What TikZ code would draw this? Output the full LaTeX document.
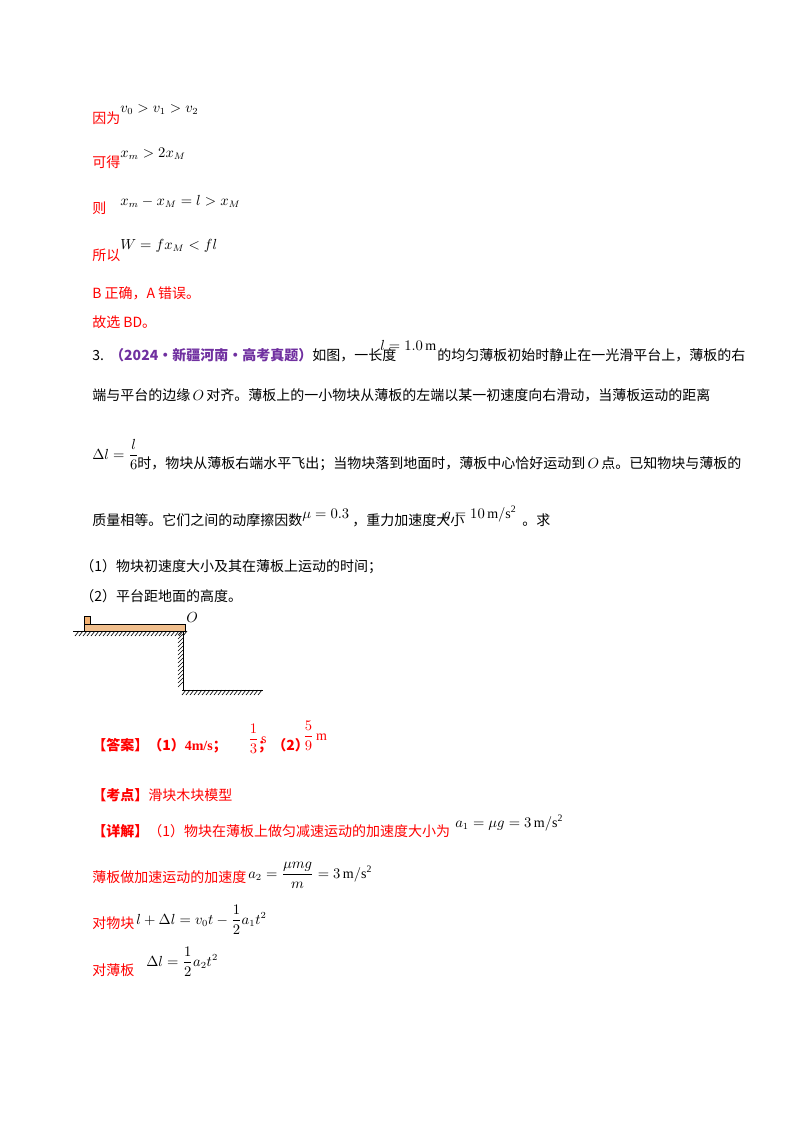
\documentclass[tikz,border=0pt]{standalone}
\usepackage{fontspec}
\setmainfont{Liberation Serif}
\newfontfamily\cjk{Noto Sans CJK SC}
\usepackage{amsmath}
\begin{document}
\begin{tikzpicture}[x=0.75pt,y=-0.75pt,
 t/.style={anchor=base west,inner sep=0pt,font=\cjk\fontsize{10.5}{12}\selectfont},
 r/.style={t,text=red},
 m/.style={anchor=base west,inner sep=0pt,font=\fontsize{10.5}{12}\selectfont},
 hatch/.style={line width=0.5pt}]
\useasboundingbox (0,0) rectangle (800,1132);
\definecolor{pur}{RGB}{112,48,160}
\definecolor{boardc}{RGB}{240,190,140}
\node[r] (a1) at (92,123) {因为};
\node[m] (a1m) at (120,112) {$v_0>v_1>v_2$};
\node[r] (a2) at (92,167) {可得};
\node[m] (a2m) at (120,157) {$x_m>2x_M$};
\node[r] (a3) at (92,213) {则};
\node[m] (a3m) at (120,205) {$x_m-x_M=l>x_M$};
\node[r] (a4) at (92,260) {所以};
\node[m] (a4m) at (120,249) {$W=fx_M<fl$};
\node[r] (a5) at (92,298) {B 正确，A 错误。};
\node[r] (a6) at (92,327) {故选 BD。};
\node[t] (q1) at (92,360) {3.\ \ {\color{pur}\bfseries（2024·新疆河南·高考真题）}如图，一长度};
\node[m] (q1m) at (380,350) {$l=1.0\,\mathrm{m}$};
\node[t] (q1b) at (437,360) {的均匀薄板初始时静止在一光滑平台上，薄板的右};
\node[t] (q2) at (92,400) {端与平台的边缘\,$O$\,对齐。薄板上的一小物块从薄板的左端以某一初速度向右滑动，当薄板运动的距离};
\node[m] (q3m) at (92,459) {$\Delta l=\dfrac{l}{6}$};
\node[t] (q3) at (137,468) {时，物块从薄板右端水平飞出；当物块落到地面时，薄板中心恰好运动到\,$O$\,点。已知物块与薄板的};
\node[t] (q4) at (92,525) {质量相等。它们之间的动摩擦因数};
\node[m] (q4m) at (302,518) {$\mu=0.3$};
\node[t] (q4b) at (352,525) {，重力加速度大小};
\node[m] (q4n) at (443,518) {$g=10\,\mathrm{m/s^2}$};
\node[t] (q4c) at (522,525) {。求};
\node[t] (q5) at (80,571) {（1）物块初速度大小及其在薄板上运动的时间；};
\node[t] (q6) at (80,601) {（2）平台距地面的高度。};
% figure
\draw[hatch] (73,631) -- (185,631);
\foreach \x in {75,79,...,183} \draw[hatch] (\x,636) -- (\x+4,631);
\draw[hatch] (183,631) -- (183,690);
\foreach \y in {635,639,...,690} \draw[hatch] (178,\y) -- (183,\y-5);
\draw[hatch] (182,690) -- (263,690);
\foreach \x in {182,186,...,258} \draw[hatch] (\x,695) -- (\x+4,690);
\draw[fill=boardc,line width=0.5pt] (84,624) rectangle (185,631);
\draw[fill=boardc!80!orange,line width=0.5pt] (84,616) rectangle (90,624);
\node[m] (O) at (186,622) {$O$};
% answer
\node[r] (b1) at (92,750) {\bfseries 【答案】（1）\textrm{4m/s}；};
\node[m,text=red] (b1a) at (248,743) {$\dfrac{1}{3}\,\mathrm{s}$};
\node[r] (b1c) at (258,750) {\bfseries ；（2）};
\node[m,text=red] (b1b) at (303,740) {$\dfrac{5}{9}\,\mathrm{m}$};
\node[r] (b2) at (92,800) {{\bfseries 【考点】}滑块木块模型};
\node[r] (b3) at (92,836) {{\bfseries 【详解】}（1）物块在薄板上做匀减速运动的加速度大小为};
\node[m] (b3m) at (455,827) {$a_1=\mu g=3\,\mathrm{m/s^2}$};
\node[r] (b4) at (92,882) {薄板做加速运动的加速度};
\node[m] (b4m) at (248,878) {$a_2=\dfrac{\mu mg}{m}=3\,\mathrm{m/s^2}$};
\node[r] (b5) at (92,928) {对物块};
\node[m] (b5m) at (136,924) {$l+\Delta l=v_0t-\dfrac12 a_1t^2$};
\node[r] (b6) at (92,975) {对薄板};
\node[m] (b6m) at (146,966) {$\Delta l=\dfrac12 a_2t^2$};
\end{tikzpicture}
\end{document}
